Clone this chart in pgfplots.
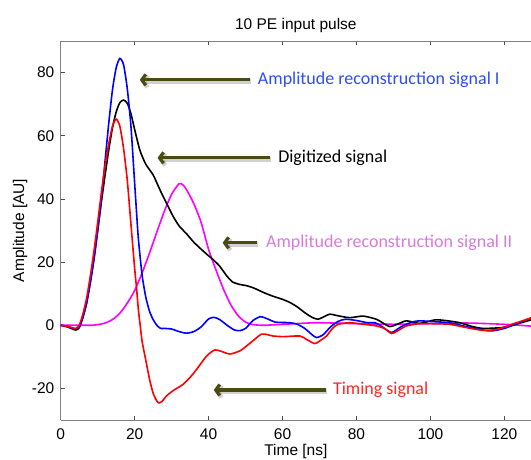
\documentclass[border=0pt]{standalone}
\usepackage{fontspec}
\setmainfont{Liberation Sans}
\newfontfamily\calib{Carlito}
\usepackage{pgfplots}
\pgfplotsset{compat=1.18}
\usetikzlibrary{arrows.meta}

\definecolor{arrowcol}{RGB}{74,74,18}
\definecolor{txtblue}{RGB}{45,75,255}
\definecolor{txtpink}{RGB}{218,120,220}
\definecolor{txtred}{RGB}{255,40,40}
\definecolor{axgray}{RGB}{130,130,130}
\definecolor{magline}{RGB}{255,0,255}
\definecolor{blueline}{RGB}{0,0,255}
\definecolor{redline}{RGB}{255,0,0}

\pgfplotstableread{
x y
0 0
2 -0.4
4 -1.2
5 -0.5
6 2.5
7 7
8 13.5
9 21
10 30
11 40
12 52
13 64
14 74.5
15 81.5
16 84.5
17 82.5
18 75
19 63
20 45
20.5 36
21 27.5
22 16
23 9
24 4.5
25 1.8
26 0
27 -1
28 -1
30 -1.2
32 -2
34 -2.5
36 -2
38 -0.5
40 2
41.5 2.5
43 1.8
45 0
47 -1.5
48.5 -1.7
50 -1
52 1.5
54 2.7
56 2
58 1
62 0.8
64 0.3
66 -1
68 -3
69.2 -3.9
71 -3
73 -0.5
75 1.2
77 1.9
80 1.5
83 0.8
85 0.8
87 -0.5
89.5 -2.3
92 -0.5
95 1
97 1.4
100 1.2
105 0.8
110 -0.5
116 -1.8
120 -1
124 0.8
127.5 2.5
}\bluedata

\pgfplotstableread{
x y
0 0
2 -0.6
4 -1.5
5 -0.8
6 2.5
7 7
8 13.5
9 21
10 30
11 39
12 47.5
13 55.5
14 62.5
15 67.5
16 70.5
17 71.3
18 70.3
19 67
20 62
21.4 55.5
23 51
25 47.6
27 42.5
28.6 38.7
30.4 34.5
32 31.5
34 29
36 26.3
37.6 24.5
39.5 22.5
41.2 20.8
43 18.7
45 15.5
46.5 13.7
48.5 12.9
50 12.6
52 11.9
55 10.3
57.4 9.2
60 8.2
62 7.2
64 5.8
66 4
68 2.5
69.6 1.9
71 2.6
72.8 3.5
75 3
78.2 2.4
81.8 2.9
85.4 1.9
87 0.8
89 -0.4
91 0.3
93.5 1.4
97.1 0.6
101.2 1.7
104 1.5
108 0.8
111 -0.3
114.2 -1
119.6 -0.7
123 0.3
127.5 1.8
}\blackdata

\pgfplotstableread{
x y
0 0
2 -0.4
4 -1
5 0
6 3.5
7 8.5
8 15.5
9 23.5
10 32.5
11 42
12 50.5
13 57.5
14 63
15 65.3
16 63
17 56
18 46
19 32
20 18
20.5 12
21 5
21.5 0
22 -5
23 -11
24.1 -17.5
25 -21.5
26 -24
26.6 -24.6
27.5 -24
28.5 -22.5
30.4 -20.7
33 -18.8
35 -16.5
36.8 -13.9
39.5 -9.7
41.7 -7.8
43.5 -8.3
45.8 -9.1
48.5 -8.1
50 -6.8
52 -4.9
54.3 -2.8
56 -3
57.4 -3.4
60.2 -3.6
64.7 -3.4
66.5 -4.5
68.7 -5.8
70 -5
71.9 -3.4
73.5 -1
75 0.3
78.2 0.8
82 0.3
85.4 -0.2
87.5 -1
89.5 -2.6
91.5 -1.5
93.5 -0.2
97 0.5
100 0.5
105.2 0.3
110 -0.8
114.2 -1.6
118 -1.3
122 0.3
127.5 2.4
}\reddata

\pgfplotstableread{
x y
0 0
8 0
10 0.2
12 0.7
14 1.8
16 3.8
18 7
20 11
22 16.5
24 22.8
26 29.5
28 36
30 41.5
32 44.8
33 44.5
34 43
36 38.5
38 32.5
40 24
42 17.5
44 11.5
46 6.5
48 3
50 1
52 0.2
55 0
60 0.3
65 0.6
70 0.8
80 0.5
90 0.3
100 0.5
110 0.7
120 0.3
127.5 -0.3
}\magdata

\begin{document}
\fontsize{15.5}{18}\selectfont
\begin{tikzpicture}
\useasboundingbox (-60.7pt,-39pt) rectangle (470.3pt,420pt);
\begin{axis}[
    at={(0pt,0pt)}, anchor=south west,
    scale only axis,
    width=470.3pt, height=379pt,
    xmin=0, xmax=127.2,
    ymin=-30, ymax=90,
    axis x line*=box, axis y line*=left,
    axis line style={axgray, line width=0.7pt},
    tick align=inside,
    major tick length=4pt,
    tick style={black!70, line width=0.6pt},
    xtick={0,20,...,120},
    ytick={-20,0,...,80},
    /pgf/number format/assume math mode=true,
    ticklabel style={font=\fontsize{15.5}{18}\selectfont},
    xticklabel style={yshift=-3pt},
    yticklabel style={xshift=-1pt},
    label style={font=\fontsize{15.5}{18}\selectfont},
    xlabel={Time [ns]},
    ylabel={Amplitude [AU]},
    xlabel style={yshift=6pt},
    ylabel style={yshift=-6pt},
    title={10 PE input pulse},
    title style={font=\fontsize{15.5}{18}\selectfont, yshift=-3pt},
    clip=false,
]
\begin{scope}
\clip (rel axis cs:0,0) rectangle (rel axis cs:1,1);
\addplot[magline, line width=1.6pt, smooth, tension=0.4] table {\magdata};
\addplot[black, line width=1.6pt, smooth, tension=0.4] table {\blackdata};
\addplot[blueline, line width=1.6pt, smooth, tension=0.4] table {\bluedata};
\addplot[redline, line width=1.6pt, smooth, tension=0.4] table {\reddata};
\end{scope}

\tikzset{ann/.style={arrowcol, line width=3.2pt, -{Straight Barb[length=4pt,width=11pt]}},
         shad/.style={black, opacity=0.18, line width=4.5pt, -{Straight Barb[length=4pt,width=12pt]}}}
% arrow 1
\draw[shad] ([xshift=1pt,yshift=-1.5pt]axis cs:51.2,77.7) -- ([xshift=1pt,yshift=-1.5pt]axis cs:21.4,77.7);
\draw[ann] (axis cs:51.2,77.7) -- (axis cs:21.4,77.7);
\node[anchor=west, inner sep=0pt, text=txtblue, font=\calib\fontsize{18}{20}\selectfont] at (axis cs:53.3,77.7) {Amplitude reconstruction signal I};
% arrow 2
\draw[shad] ([xshift=1pt,yshift=-1.5pt]axis cs:56.6,53) -- ([xshift=1pt,yshift=-1.5pt]axis cs:26.2,53);
\draw[ann] (axis cs:56.6,53) -- (axis cs:26.2,53);
\node[anchor=west, inner sep=0pt, text=black, font=\calib\fontsize{18}{20}\selectfont] at (axis cs:58.8,53) {Digitized signal};
% arrow 3
\draw[shad] ([xshift=1pt,yshift=-1.5pt]axis cs:53.1,26.1) -- ([xshift=1pt,yshift=-1.5pt]axis cs:43.8,26.1);
\draw[ann] (axis cs:53.1,26.1) -- (axis cs:43.8,26.1);
\node[anchor=west, inner sep=0pt, text=txtpink, font=\calib\fontsize{18}{20}\selectfont] at (axis cs:55.5,26.1) {Amplitude reconstruction signal II};
% arrow 4
\draw[shad] ([xshift=1pt,yshift=-1.5pt]axis cs:71.7,-20.5) -- ([xshift=1pt,yshift=-1.5pt]axis cs:41.4,-20.5);
\draw[ann] (axis cs:71.7,-20.5) -- (axis cs:41.4,-20.5);
\node[anchor=west, inner sep=0pt, text=txtred, font=\calib\fontsize{18}{20}\selectfont] at (axis cs:73.6,-20.5) {Timing signal};
\end{axis}
\end{tikzpicture}
\end{document}
